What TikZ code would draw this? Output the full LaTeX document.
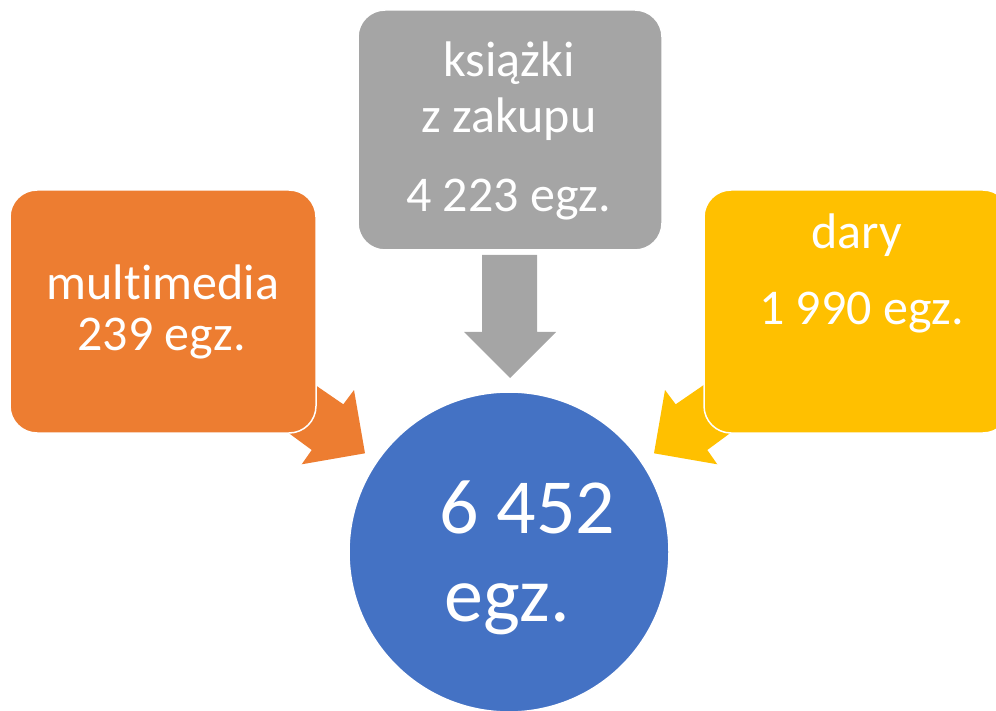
\documentclass[tikz,border=0pt]{standalone}
\usepackage{fontspec}
\setmainfont[Ligatures=NoCommon]{Carlito}
\definecolor{cOrange}{HTML}{ED7D31}
\definecolor{cGray}{HTML}{A5A5A5}
\definecolor{cYellow}{HTML}{FFC000}
\definecolor{cBlue}{HTML}{4472C4}
\tikzset{
  box/.style={rectangle, rounded corners=27pt, draw=white, line width=1.5pt, inner sep=0pt, minimum width=306pt, minimum height=243pt},
  lbl/.style={text=white, inner sep=0pt, anchor=base, font=\fontsize{50}{60}\selectfont},
  big/.style={text=white, inner sep=0pt, anchor=base, font=\fontsize{78}{90}\selectfont},
  blockarrow/.style={draw=none}
}
\begin{document}
\begin{tikzpicture}[x=1pt,y=-1pt]
\useasboundingbox (0,0) rectangle (996,711);
% block arrows (drawn under the boxes)
\fill[cOrange, blockarrow] (285.7,363) -- (317.7,386.7) -- (343.3,404.3) -- (354,390) -- (365,453.3) -- (301.7,464.3) -- (311.7,450) -- (292.7,436) -- (268.7,418) -- cycle;
\fill[cYellow, blockarrow] (733.3,363) -- (701.3,386.7) -- (675.7,404.3) -- (665,390) -- (654,453.3) -- (717.3,464.3) -- (707.3,450) -- (726.3,436) -- (750.3,418) -- cycle;
\fill[cGray, blockarrow] (482,255) -- (537,255) -- (537,332) -- (556,332) -- (510,378) -- (464,332) -- (482,332) -- cycle;
% boxes
\node[box, fill=cOrange, minimum height=243pt] (mm) at (163,311.5) {};
\node[box, fill=cGray, minimum width=304pt, minimum height=240pt] (kz) at (510,130) {};
\node[box, fill=cYellow] (dr) at (857,311.5) {};
\node[circle, fill=cBlue, draw=white, line width=1.5pt, inner sep=0pt, minimum size=320pt] (tot) at (509,552) {};
% texts
\node[lbl] (t1) at (163,300) {multimedia};
\node[lbl] (t2) at (161.7,350) {239 egz.};
\node[lbl] (t3) at (509,76.7) {książki};
\node[lbl] (t4) at (509,133) {z zakupu};
\node[lbl] (t5) at (508.5,211.7) {4 223 egz.};
\node[lbl] (t6) at (856.7,248.3) {dary};
\node[lbl] (t7) at (861.7,325) {1 990 egz.};
\node[big] (t8) at (527.3,533) {6 452};
\node[big] (t9) at (507.4,621.7) {egz.};
\end{tikzpicture}
\end{document}
